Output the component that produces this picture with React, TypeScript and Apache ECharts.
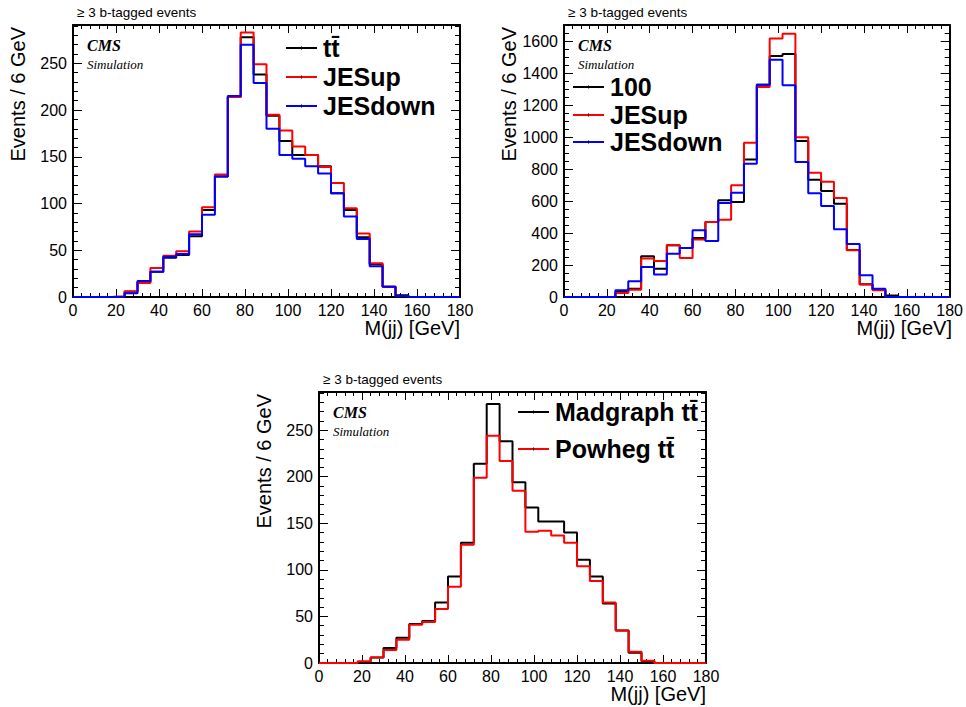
import React, { useEffect, useRef } from "react";
import * as echarts from "echarts";

// Bin edges (6 GeV bins, 0..180 GeV)
const binEdges = [0, 6, 12, 18, 24, 30, 36, 42, 48, 54, 60, 66, 72, 78, 84, 90, 96, 102, 108, 114, 120, 126, 132, 138, 144, 150, 156, 162, 168, 174, 180];

// Panel 1: ttbar nominal vs JES up/down
const p1Nominal = [0, 0, 0, 0.5, 6, 16, 27, 42, 45, 65, 93, 129, 214, 278, 238, 194, 167, 152, 152, 140, 111, 93, 64, 35, 11, 2, 0, 0, 0, 0];
const p1JESup = [0, 0, 0, 0.5, 6, 15, 31, 44, 49, 70, 96, 131, 214, 283, 249, 195, 178, 161, 152, 139, 122, 95, 68, 36, 11, 1, 0, 0, 0, 0];
const p1JESdown = [0, 0, 0, 0.3, 4, 17, 27, 43, 46, 67, 88, 129, 215, 270, 229, 180, 152, 148, 140, 132, 111, 86, 62, 33, 11, 1, 0, 0, 0, 0];

// Panel 2: "100" vs JES up/down
const p2Nominal = [0, 0, 0, 0, 31, 52, 254, 177, 323, 306, 369, 469, 604, 594, 860, 1327, 1506, 1519, 975, 733, 662, 583, 294, 79, 46, 10, 0, 0, 0, 0];
const p2JESup = [0, 0, 0, 0, 25, 45, 240, 225, 323, 244, 360, 469, 483, 698, 964, 1312, 1615, 1646, 998, 776, 720, 619, 292, 78, 42, 0, 0, 0, 0, 0];
const p2JESdown = [0, 0, 0, 0, 42, 98, 188, 140, 271, 306, 417, 350, 587, 652, 833, 1327, 1483, 1323, 844, 648, 568, 424, 331, 136, 52, 0, 0, 0, 0, 0];

// Panel 3: Madgraph vs Powheg ttbar
const p3Madgraph = [0, 0, 0, 0.5, 6, 16, 27, 42, 45, 65, 93, 129, 214, 278, 238, 194, 167, 152, 152, 140, 111, 93, 64, 35, 11, 2, 0, 0, 0, 0];
const p3Powheg = [0, 0, 0, 2, 6, 14, 25, 41, 44, 58, 82, 127, 199, 244, 217, 185, 141, 142, 137, 129, 104, 88, 65, 35, 12, 2.5, 0, 0, 0, 0];

const titleText = "\u2265 3 b-tagged events";
const yTitle = "Events / 6 GeV";
const xTitle = "M(jj) [GeV]";
const p1Legend = ["t\u0074\u0304", "JESup", "JESdown"];
const p2Legend = ["100", "JESup", "JESdown"];
const p3Legend = ["Madgraph t\u0074\u0304", "Powheg t\u0074\u0304"];

const SANS = "'Liberation Sans', Arial, Helvetica, sans-serif";
const SERIF = "'Liberation Serif', 'Times New Roman', serif";

function histPoints(values: number[]) {
  const pts = values.map((v, i) => [binEdges[i], v]);
  pts.push([binEdges[values.length], values[values.length - 1]]);
  return pts;
}

const panels = [
  { left: 73, top: 25, width: 387, height: 272, ymax: 291, yInt: 50, yMinor: 10 },
  { left: 564, top: 25, width: 388, height: 272, ymax: 1700, yInt: 200, yMinor: 50 },
  { left: 319, top: 392, width: 387, height: 271, ymax: 291, yInt: 50, yMinor: 10 },
];

const plain = (v: number) => String(Math.round(v));

function buildAxes() {
  const xAxes: any[] = [];
  const yAxes: any[] = [];
  panels.forEach((p, g) => {
    const xBase = {
      type: "value",
      gridIndex: g,
      min: 0,
      max: 180,
      interval: 20,
      splitLine: { show: false },
      axisLine: { show: true, onZero: false, lineStyle: { color: "#000", width: 2 } },
      axisTick: { show: true, inside: true, length: 8, lineStyle: { color: "#000", width: 1 } },
      minorTick: { show: true, splitNumber: 5, length: 4, lineStyle: { color: "#000", width: 1 } },
    };
    xAxes.push({
      ...xBase,
      position: "bottom",
      axisLabel: { show: true, margin: 5, fontSize: 16, color: "#000", fontFamily: SANS, showMinLabel: true, showMaxLabel: true, formatter: plain },
    });
    xAxes.push({ ...xBase, position: "top", axisLabel: { show: false } });
    const yBase = { type: "value", gridIndex: g, min: 0, max: p.ymax, splitLine: { show: false } };
    const mainTick = { show: true, inside: true, length: 9, lineStyle: { color: "#000", width: 1 } };
    const minorTick = { show: true, inside: true, length: 5, lineStyle: { color: "#000", width: 1 } };
    yAxes.push({
      ...yBase,
      position: "left",
      interval: p.yInt,
      axisLine: { show: true, onZero: false, lineStyle: { color: "#000", width: 2 } },
      axisTick: mainTick,
      axisLabel: { show: true, margin: 6, fontSize: 16, color: "#000", fontFamily: SANS, showMaxLabel: false, showMinLabel: true, formatter: plain },
    });
    yAxes.push({ ...yBase, position: "left", interval: p.yMinor, axisLine: { show: false, onZero: false }, axisTick: minorTick, axisLabel: { show: false } });
    yAxes.push({
      ...yBase,
      position: "right",
      interval: p.yInt,
      axisLine: { show: true, onZero: false, lineStyle: { color: "#000", width: 2 } },
      axisTick: mainTick,
      axisLabel: { show: false },
    });
    yAxes.push({ ...yBase, position: "right", interval: p.yMinor, axisLine: { show: false, onZero: false }, axisTick: minorTick, axisLabel: { show: false } });
  });
  return { xAxes, yAxes };
}

function hist(g: number, values: number[], color: string, z: number) {
  return {
    type: "line",
    xAxisIndex: 2 * g,
    yAxisIndex: 4 * g,
    data: histPoints(values),
    step: "end",
    symbol: "none",
    showSymbol: false,
    silent: true,
    z,
    lineStyle: { color, width: 2 },
    itemStyle: { color },
  };
}

function txt(x: number, y: number, text: string, font: string, align = "left", rotation = 0) {
  return {
    type: "text",
    x,
    y,
    rotation,
    silent: true,
    style: { text, font, fill: "#000", textAlign: align, align, textVerticalAlign: "middle", verticalAlign: "middle" },
  };
}

function legLine(x1: number, x2: number, y: number, color: string) {
  return [
    {
      type: "line",
      silent: true,
      shape: { x1, y1: y, x2, y2: y },
      style: { stroke: color, lineWidth: 2 },
    },
    {
      type: "line",
      silent: true,
      shape: { x1: (x1 + x2) / 2, y1: y - 1.5, x2: (x1 + x2) / 2, y2: y + 1.5 },
      style: { stroke: "#000", lineWidth: 1 },
    },
  ];
}

function panelDecor(p: any, legendItems: string[], colors: string[], legX: number, legY: number[]) {
  const out: any[] = [];
  out.push(txt(p.left + 4, p.top - 12.5, titleText, `13.5px ${SANS}`));
  out.push(txt(p.left + 14, p.top + 20, "CMS", `italic bold 16px ${SERIF}`));
  out.push(txt(p.left + 14, p.top + 39, "Simulation", `italic 13px ${SERIF}`));
  out.push(txt(p.left - 55, p.top + 2, yTitle, `20px ${SANS}`, "right", Math.PI / 2));
  out.push(txt(p.left + p.width, p.top + p.height + 31, xTitle, `20px ${SANS}`, "right"));
  legendItems.forEach((name, i) => {
    out.push(...legLine(legX, legX + 31, legY[i], colors[i]));
    out.push(txt(legX + 37, legY[i], name, `bold 25px ${SANS}`));
  });
  return out;
}

export default function App() {
  const ref = useRef<HTMLDivElement>(null);
  useEffect(() => {
    if (!ref.current) return;
    const chart = echarts.init(ref.current, undefined, { renderer: "svg" });
    const { xAxes, yAxes } = buildAxes();
    const graphic = [
      ...panelDecor(panels[0], p1Legend, ["#000000", "#ff0000", "#0000ff"], 286, [48, 77, 106]),
      ...panelDecor(panels[1], p2Legend, ["#000000", "#ff0000", "#0000ff"], 573, [87, 115, 142]),
      ...panelDecor(panels[2], p3Legend, ["#000000", "#ff0000"], 518, [412, 449]),
    ];
    chart.setOption({
      animation: false,
      backgroundColor: "#ffffff",
      grid: panels.map((p) => ({ left: p.left, top: p.top, width: p.width, height: p.height, containLabel: false })),
      xAxis: xAxes,
      yAxis: yAxes,
      series: [
        hist(0, p1Nominal, "#000000", 2),
        hist(0, p1JESup, "#ff0000", 3),
        hist(0, p1JESdown, "#0000ff", 4),
        hist(1, p2Nominal, "#000000", 2),
        hist(1, p2JESup, "#ff0000", 3),
        hist(1, p2JESdown, "#0000ff", 4),
        hist(2, p3Madgraph, "#000000", 2),
        hist(2, p3Powheg, "#ff0000", 3),
      ],
      graphic,
    });
    return () => chart.dispose();
  }, []);
  return <div ref={ref} style={{ position: "fixed", left: 0, top: 0, width: 966, height: 707, background: "#fff" }} />;
}
